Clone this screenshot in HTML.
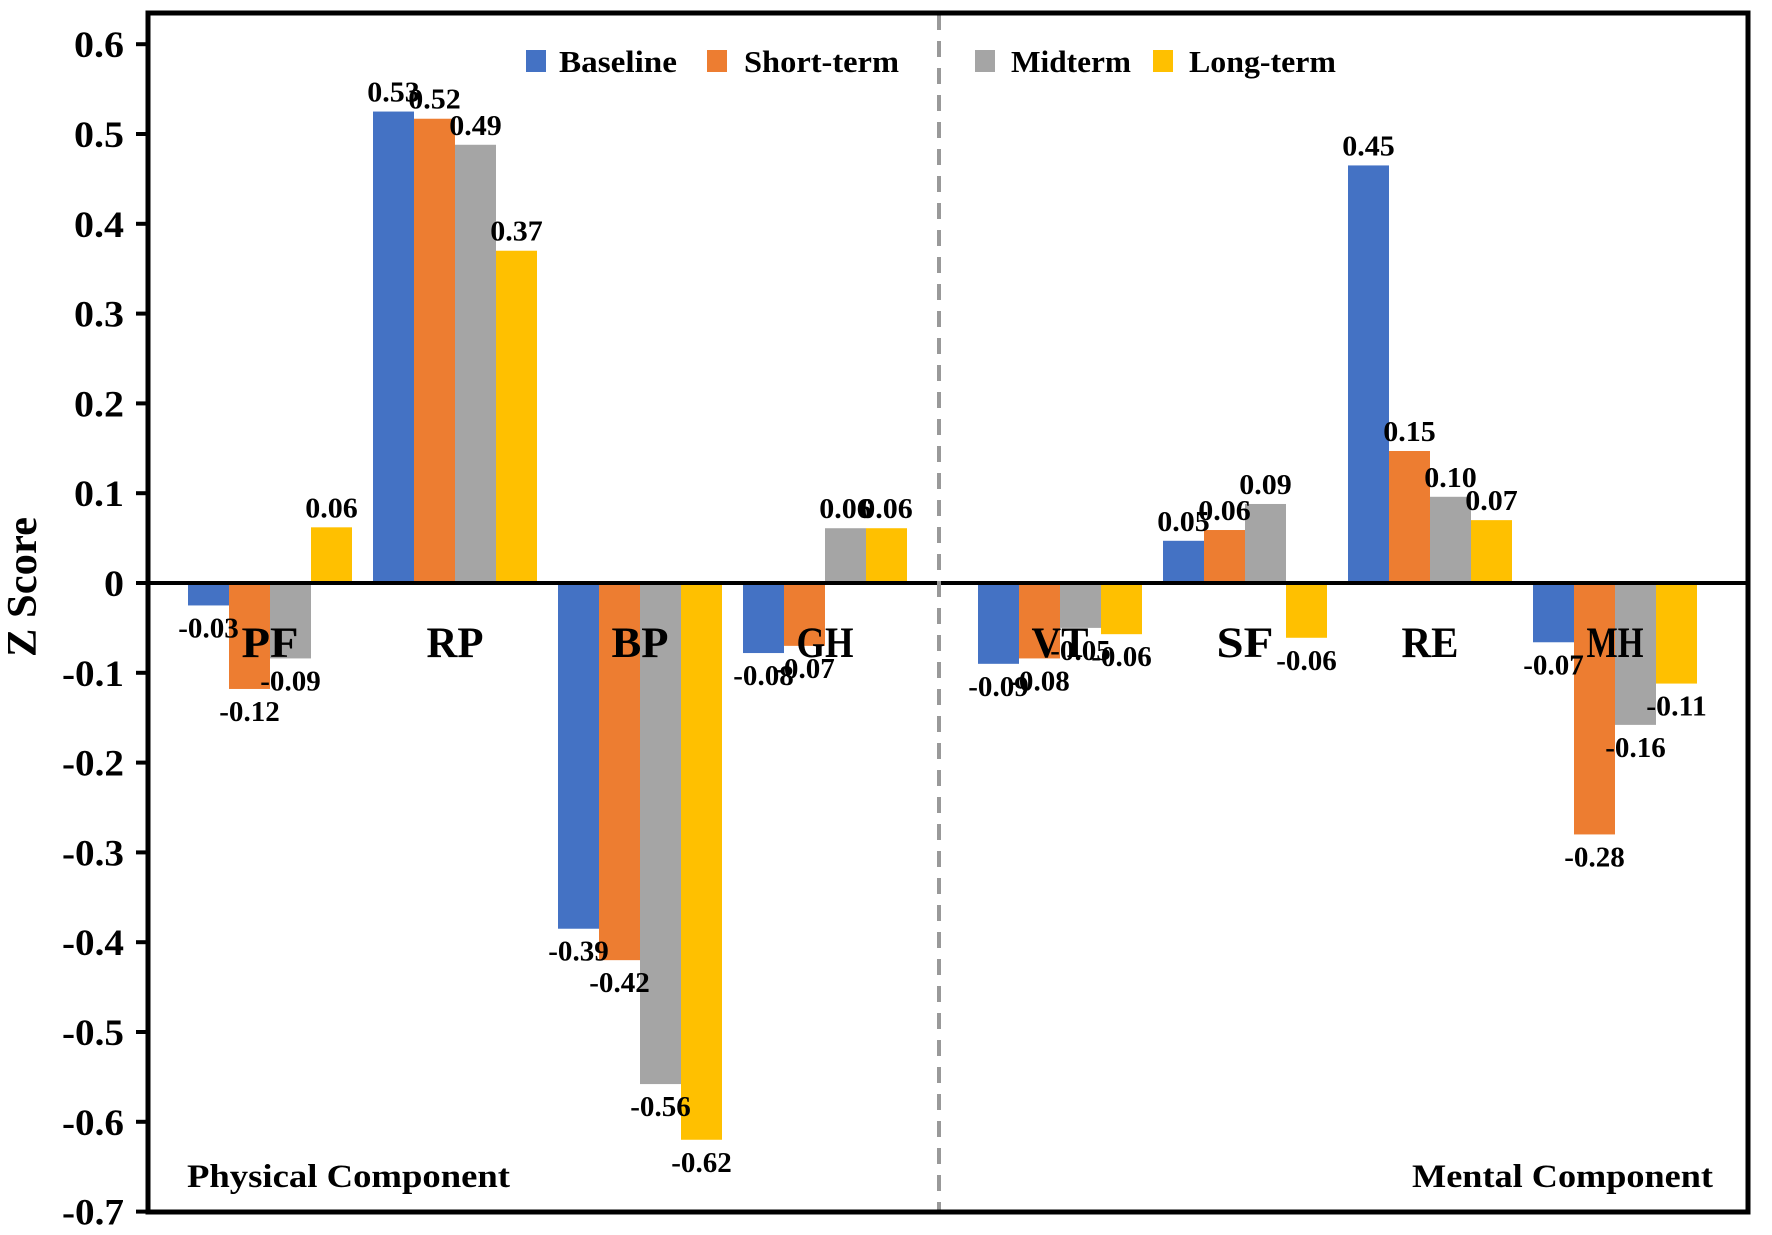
<!DOCTYPE html>
<html><head><meta charset="utf-8"><style>
html,body{margin:0;padding:0;background:#fff;}
svg{display:block;}
text{font-family:"Liberation Serif",serif;font-weight:bold;fill:#000;}
</style></head><body>
<svg id="chart" width="1772" height="1235" viewBox="0 0 1772 1235" xmlns="http://www.w3.org/2000/svg">
<g id="bars"></g>
<g id="labels"></g>
<g id="axes"></g>
<line x1="939" y1="14" x2="939" y2="1210" stroke="#999" stroke-width="4" stroke-dasharray="16,11"/>
<rect x="148" y="13" width="1600" height="1199" fill="none" stroke="#000" stroke-width="5"/>
<text x="0" y="0" font-size="42" text-anchor="middle" textLength="140" lengthAdjust="spacingAndGlyphs" transform="translate(36,587) rotate(-90)">Z Score</text>
<text x="187" y="1187" font-size="33" textLength="323" lengthAdjust="spacingAndGlyphs">Physical Component</text>
<text x="1412" y="1187" font-size="33" textLength="301" lengthAdjust="spacingAndGlyphs">Mental Component</text>
<g>
 <g><rect x="526" y="50" width="20" height="22" fill="#4472C4"/><text x="559" y="72" font-size="31" textLength="118" lengthAdjust="spacingAndGlyphs">Baseline</text></g>
 <g><rect x="707" y="50" width="20" height="22" fill="#ED7D31"/><text x="744" y="72" font-size="31" textLength="155" lengthAdjust="spacingAndGlyphs">Short-term</text></g>
 <g><rect x="975" y="50" width="20" height="22" fill="#A5A5A5"/><text x="1011" y="72" font-size="31" textLength="120" lengthAdjust="spacingAndGlyphs">Midterm</text></g>
 <g><rect x="1153" y="50" width="20" height="22" fill="#FFC000"/><text x="1189" y="72" font-size="31" textLength="147" lengthAdjust="spacingAndGlyphs">Long-term</text></g>
</g>
</svg>
<script>
const categories = ["PF","RP","BP","GH","VT","SF","RE","MH"];
const seriesNames = ["baseline","short-term","midterm","long-term"];
const baseline  = [-0.025, 0.525, -0.385, -0.078, -0.09, 0.047, 0.465, -0.066];
const shortTerm = [-0.118, 0.517, -0.42, -0.07, -0.084, 0.059, 0.147, -0.28];
const midterm   = [-0.084, 0.488, -0.558, 0.061, -0.05, 0.088, 0.096, -0.158];
const longTerm  = [0.062, 0.37, -0.62, 0.061, -0.057, -0.061, 0.07, -0.112];
const baselineLabels  = ["-0.03","0.53","-0.39","-0.08","-0.09","0.05","0.45","-0.07"];
const shortTermLabels = ["-0.12","0.52","-0.42","-0.07","-0.08","0.06","0.15","-0.28"];
const midtermLabels   = ["-0.09","0.49","-0.56","0.06","-0.05","0.09","0.10","-0.16"];
const longTermLabels  = ["0.06","0.37","-0.62","0.06","-0.06","-0.06","0.07","-0.11"];
const yTicks = [0.6,0.5,0.4,0.3,0.2,0.1,0,-0.1,-0.2,-0.3,-0.4,-0.5,-0.6,-0.7];
const yTickLabels = ["0.6","0.5","0.4","0.3","0.2","0.1","0","-0.1","-0.2","-0.3","-0.4","-0.5","-0.6","-0.7"];

const NS="http://www.w3.org/2000/svg";
const colors=["#4472C4","#ED7D31","#A5A5A5","#FFC000"];
const series=[baseline,shortTerm,midterm,longTerm];
const labelsArr=[baselineLabels,shortTermLabels,midtermLabels,longTermLabels];
function yScale(v){return 583 - v*898;}
function xCenter(i){return 270 + i*185 + (i>=4?50:0);}
const BW=41;
function mk(tag,attrs,parent,txt){const e=document.createElementNS(NS,tag);for(const k in attrs)e.setAttribute(k,attrs[k]);if(txt!==undefined)e.textContent=txt;parent.appendChild(e);return e;}
function tlen(s,perDigit,perMinus){let w=0;for(const ch of s){w+= ch==='-'?perMinus:(ch==='.'?perDigit*0.5:perDigit);}return w;}
const gb=document.getElementById('bars'), gl=document.getElementById('labels'), ga=document.getElementById('axes');
categories.forEach((c,i)=>{
  series.forEach((s,j)=>{
    const v=s[i];
    const x=xCenter(i)-2*BW+j*BW;
    const y0=yScale(0), y1=yScale(v);
    const r=mk('rect',{x:x,y:Math.min(y0,y1),width:BW,height:Math.abs(y1-y0),fill:colors[j]},gb);
    
    
    const lab=labelsArr[j][i];
    const ly = v>=0 ? y1-10 : y1+32;
    const t=mk('text',{x:x+BW/2,y:ly,'font-size':28,'text-anchor':'middle',textLength:tlen(lab,15,8),lengthAdjust:'spacingAndGlyphs'},gl,lab);
    
    
  });
  const ct=mk('text',{x:xCenter(i),y:657,'font-size':43,'text-anchor':'middle',textLength:c.length*28.5,lengthAdjust:'spacingAndGlyphs'},gl,c);
  
  
});
const zl=mk('line',{x1:148,y1:yScale(0),x2:1748,y2:yScale(0),stroke:'#000','stroke-width':4},ga);


yTicks.forEach((v,k)=>{
  const y=yScale(v);
  const tk=mk('line',{x1:136,y1:y,x2:150,y2:y,stroke:'#000','stroke-width':4},ga);
  
  
  const lab=yTickLabels[k];
  const tl=mk('text',{x:124,y:y+13,'font-size':37,'text-anchor':'end',textLength:tlen(lab,20,12),lengthAdjust:'spacingAndGlyphs'},ga,lab);
  
  
});
</script>
</body></html>
